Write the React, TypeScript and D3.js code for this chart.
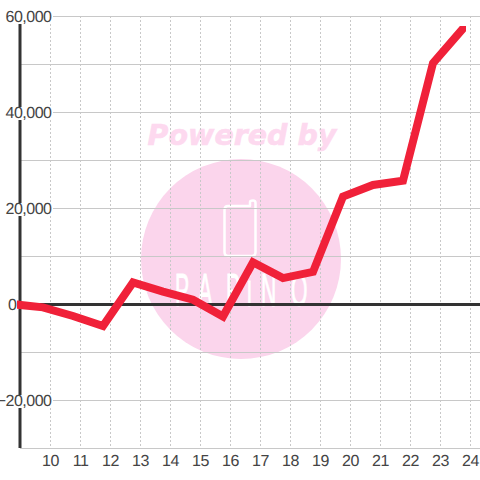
import React from "react";
import * as d3 from "d3";

const xValues = [8.85, 9.75, 10.75, 11.75, 12.75, 13.75, 14.75, 15.75, 16.75, 17.75, 18.75, 19.75, 20.75, 21.75, 22.75, 23.75];
const yValues = [0, -600, -2400, -4500, 4600, 2700, 1000, -2500, 8800, 5500, 6800, 22500, 24900, 25800, 50300, 57500];
const xTicks = [10, 11, 12, 13, 14, 15, 16, 17, 18, 19, 20, 21, 22, 23, 24];
const yMajor = [60000, 40000, 20000, 0, -20000];
const yMinor = [50000, 30000, 10000, -10000, -30000];
const logoLetters = "PAPiNO";

const x = d3.scaleLinear().domain([10, 24]).range([50.5, 470.5]);
const y = d3.scaleLinear().domain([60000, -30000]).range([16.5, 448.5]);
const fmt = d3.format(",");
const line = d3.line<number>().x((_, i) => x(xValues[i])).y((d) => y(d));

const FONT = "'Liberation Sans', Arial, sans-serif";
const PINK = "#fbd5ec";
const letterX = [175, 198, 226, 247, 261, 291];
const letterScale = 0.46;

export default function App() {
  return (
    <svg width={480} height={480} style={{ position: "absolute", left: 0, top: 0, background: "#fff" }}>
      <defs>
        <clipPath id="plot"><rect x={17} y={26} width={449} height={422} /></clipPath>
      </defs>
      <g>
        <circle cx={241} cy={259} r={100} fill={PINK} />
        <text x={242} y={145} textAnchor="middle" fontFamily="'DejaVu Sans'" fontWeight="bold" fontStyle="italic" fontSize={28.5} fill="#fdd9ef" stroke="#fdd9ef" strokeWidth={0.6}>Powered by</text>
        <path d="M228 206 H250 V202 Q250 200.5 253 200.5 Q255.5 200.5 255.5 203 V252 Q255.5 256 252 256 H228 Q224.5 256 224.5 252 V210 Q224.5 206 228 206" fill="none" stroke="#fff" strokeWidth={2.5} strokeLinejoin="round" />
        <text transform={`scale(${letterScale},1)`} y={306} fontFamily={FONT} fontSize={46} fill="#fff" stroke="#fff" strokeWidth={1} x={letterX.map((v) => v / letterScale).join(" ")}>{logoLetters}</text>
      </g>
      {xTicks.map((t) => (
        <line key={t} x1={x(t)} x2={x(t)} y1={16} y2={448} stroke="#c8c8c8" strokeDasharray="2 2" />
      ))}
      {[...yMajor, ...yMinor].filter((v) => v !== 0).map((v) => (
        <line key={v} x1={20} x2={480} y1={y(v)} y2={y(v)} stroke="#c8c8c8" strokeWidth={1} />
      ))}
      <line x1={20} x2={480} y1={y(0)} y2={y(0)} stroke="#333" strokeWidth={3} />
      <line x1={20} x2={20} y1={16} y2={448} stroke="#333" strokeWidth={3} />
      <path d={line(yValues) ?? ""} fill="none" stroke="#f02139" strokeWidth={8} strokeLinejoin="miter" strokeLinecap="square" clipPath="url(#plot)" />
      {yMajor.filter((v) => v !== 0).map((v) => (
        <rect key={v} x={0} y={y(v) - 5.5} width={53} height={13} fill="#fff" />
      ))}
      {yMajor.map((v) => (
        <text key={v} x={v === 0 ? 16.5 : 51.5} y={y(v)} dy={5.5} textAnchor="end" fontFamily={FONT} fontSize={16} letterSpacing={-0.5} fill="#444" style={{ textRendering: "geometricPrecision" }}>{fmt(v)}</text>
      ))}
      {xTicks.map((t) => (
        <text key={t} x={x(t)} y={466} textAnchor="middle" fontFamily={FONT} fontSize={16} letterSpacing={-0.5} fill="#444" style={{ textRendering: "geometricPrecision" }}>{t}</text>
      ))}
    </svg>
  );
}
